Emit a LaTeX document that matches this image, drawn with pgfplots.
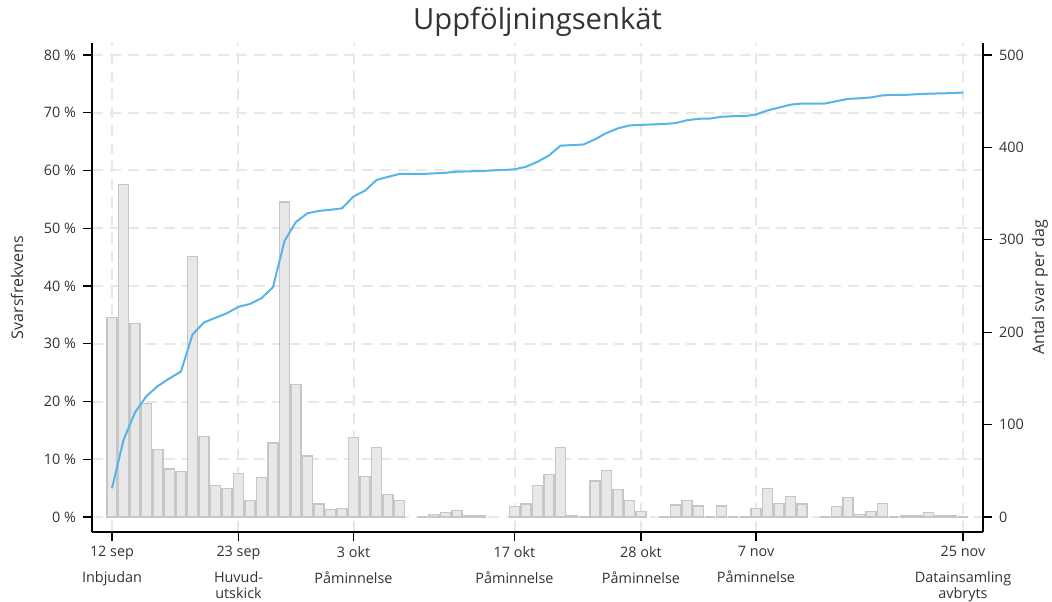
\documentclass[border=0pt]{standalone}
\usepackage{pgfplots}
\pgfplotsset{compat=1.18}
\usepackage{pgfplotstable}
\usepackage{fontspec}
\setmainfont{Open Sans}
\definecolor{barfill}{HTML}{E8E8E8}
\definecolor{baredge}{HTML}{C6C6C6}
\definecolor{lineblue}{HTML}{56B4E9}
\definecolor{gridc}{HTML}{E8E8E8}
\definecolor{txt}{HTML}{333333}

\pgfplotstableread{
day count
0 216
1 360
2 209
3 123
4 73
5 52
6 49
7 282
8 87
9 34
10 31
11 47
12 18
13 43
14 80
15 341
16 143
17 66
18 14
19 8
20 9
21 86
22 44
23 75
24 24
25 18
27 0
28 3
29 5
30 7
31 2
32 1
35 11
36 14
37 34
38 46
39 75
40 1
41 0
42 39
43 50
44 30
45 18
46 6
48 0
49 13
50 18
51 12
52 0
53 12
54 0
55 0
56 9
57 31
58 15
59 22
60 14
62 0
63 11
64 21
65 3
66 6
67 15
68 0
69 2
70 1
71 5
72 1
73 1
74 0
}\bars

\pgfplotstableread{
day pct
0 4.97
1 13.33
2 18.1
3 20.95
4 22.7
5 24.0
6 25.2
7 31.6
8 33.7
9 34.5
10 35.3
11 36.4
12 36.9
13 37.9
14 39.8
15 47.8
16 51.1
17 52.6
18 53.0
19 53.2
20 53.45
21 55.5
22 56.5
23 58.35
24 58.9
25 59.4
27 59.4
28 59.5
29 59.6
30 59.8
31 59.85
32 59.9
35 60.2
36 60.65
37 61.5
38 62.6
39 64.3
40 64.4
41 64.5
42 65.4
43 66.5
44 67.3
45 67.8
46 67.9
48 68.05
49 68.2
50 68.7
51 68.95
52 69.0
53 69.3
54 69.4
55 69.4
56 69.7
57 70.4
58 70.9
59 71.4
60 71.6
62 71.6
63 72.0
64 72.4
65 72.5
66 72.65
67 73.0
68 73.1
69 73.1
70 73.2
71 73.3
72 73.35
73 73.4
74 73.5
}\cum

\begin{document}
\begin{tikzpicture}
\useasboundingbox (-46pt,-34.5pt) rectangle (480pt,266pt);
\pgfplotsset{
  base/.style={scale only axis, width=445.5pt, height=244.5pt,
    xmin=-1.739, xmax=75.739, at={(0pt,0pt)}, anchor=south west},
  lbl/.style={font=\fontsize{7.2}{7.6}\selectfont, text=txt},
}
% axis 1: grid, left axis, x axis
\begin{axis}[base, ymin=-2.597, ymax=82.078,
  axis x line*=bottom, axis y line*=left,
  tick align=outside, major tick length=4.5pt,
  tick style={black, line width=0.6pt},
  axis line style={black, line width=0.75pt},
  grid=major,
  major grid style={gridc, line width=1pt, dash pattern=on 5.5pt off 3.5pt},
  xtick={0,11,21,35,46,56,74},
  xticklabels={
    12 sep\\[5.4pt]Inbjudan,
    23 sep\\[5.4pt]Huvud-\\utskick,
    3 okt\\[5.4pt]Påminnelse,
    17 okt\\[5.4pt]Påminnelse,
    28 okt\\[5.4pt]Påminnelse,
    7 nov\\[5.4pt]Påminnelse,
    25 nov\\[5.4pt]Datainsamling\\avbryts},
  xticklabel style={lbl, align=center, anchor=north, yshift=0.8pt},
  ytick={0,10,20,30,40,50,60,70,80},
  yticklabels={0 \%,10 \%,20 \%,30 \%,40 \%,50 \%,60 \%,70 \%,80 \%},
  yticklabel style={lbl},
  ylabel={Svarsfrekvens},
  ylabel style={font=\fontsize{8}{9.6}\selectfont, text=txt, at={(axis description cs:-0.0842,0.5)}, anchor=center},
  title={Uppföljningsenkät},
  every axis title shift=0pt,
  title style={font=\fontsize{14.6}{17}\selectfont, text=txt, at={(axis description cs:0.5,1.043)}, anchor=center},
]
\addplot[draw=none] coordinates {(0,0)};
\end{axis}
% axis 2: bars on right axis
\begin{axis}[base, ymin=-16.23, ymax=512.99,
  axis x line=none, axis y line*=right,
  tick align=outside, major tick length=4.5pt,
  tick style={black, line width=0.6pt},
  axis line style={black, line width=0.75pt},
  ytick={0,100,200,300,400,500},
  yticklabels={0,100,200,300,400,500},
  yticklabel style={lbl},
  ylabel={Antal svar per dag},
  ylabel style={font=\fontsize{8}{9.6}\selectfont, text=txt, at={(axis description cs:1.064,0.5)}, anchor=center},
]
\addplot[ybar, bar width=0.87, fill=barfill, draw=baredge, line width=0.6pt] table[x=day, y=count] {\bars};
\end{axis}
% axis 3: cumulative response rate line
\begin{axis}[base, ymin=-2.597, ymax=82.078, hide axis]
\addplot[lineblue, line width=1pt, mark=none] table[x=day, y=pct] {\cum};
\end{axis}
\end{tikzpicture}
\end{document}
